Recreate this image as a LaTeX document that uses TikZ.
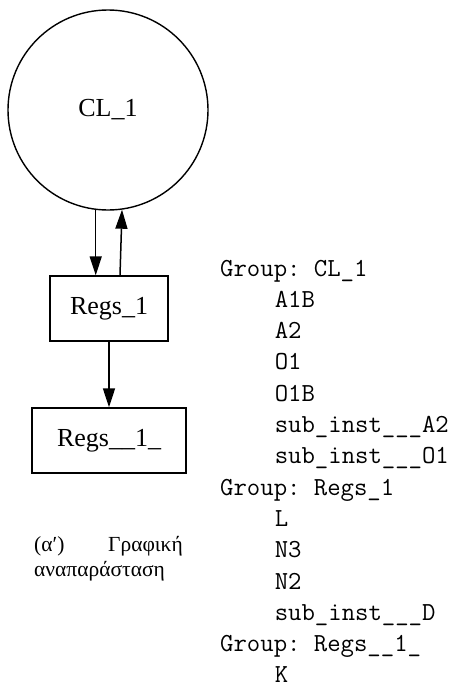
\documentclass[tikz,border=0pt]{standalone}
\usepackage{fontspec}
\setmainfont{Liberation Serif}
\setmonofont{Latin Modern Mono}
\usetikzlibrary{arrows.meta}

\tikzset{
  edge/.style={line width=1.5pt, -{Triangle[length=19pt,width=12pt]}},
  gnode/.style={draw, line width=1.4pt, font=\fontsize{26}{30}\selectfont, inner sep=0pt},
  blk/.style={gnode, rectangle, minimum height=65pt},
  listline/.style={anchor=base west, inner sep=0pt, font=\ttfamily\fontsize{26}{28.5}\selectfont},
  capline/.style={inner sep=0pt, font=\fontsize{21.5}{25}\selectfont},
}
\newcommand{\ind}{\hspace*{2.1em}}

\begin{document}
\begin{tikzpicture}[x=1pt, y=-1pt]
  \useasboundingbox (0,0) rectangle (461,694);

  % graph
  \node[gnode, circle, minimum size=200pt] (cl) at (108,110) {CL\_1};
  \node[blk, minimum width=118pt] (r1) at (109,308.5) {Regs\_1};
  \node[blk, minimum width=154pt] (r2) at (109,440.5) {Regs\_\_1\_};

  \draw[edge] (cl.-97) -- (cl.-97 |- r1.north);
  \draw[edge] ([xshift=11pt]r1.north) -- (cl.-82);
  \draw[edge] (r1.south) -- (r2.north);

  % caption
  \node[capline, anchor=base west] (capa) at (34,551) {(α′)};
  \node[capline, anchor=base east] (capb) at (183,551) {Γραφική};
  \node[capline, anchor=base west] (capc) at (34,576) {αναπαράσταση};

  % group listing
  \foreach \txt [count=\i from 0] in {
      {Group: CL\_1}, {\ind A1B}, {\ind A2}, {\ind O1}, {\ind O1B},
      {\ind sub\_inst\_\_\_A2}, {\ind sub\_inst\_\_\_O1},
      {Group: Regs\_1}, {\ind L}, {\ind N3}, {\ind N2},
      {\ind sub\_inst\_\_\_D},
      {Group: Regs\_\_1\_}, {\ind K}}
    \node[listline] (ln\i) at (220, {276+\i*31.3}) {\txt};
\end{tikzpicture}
\end{document}
